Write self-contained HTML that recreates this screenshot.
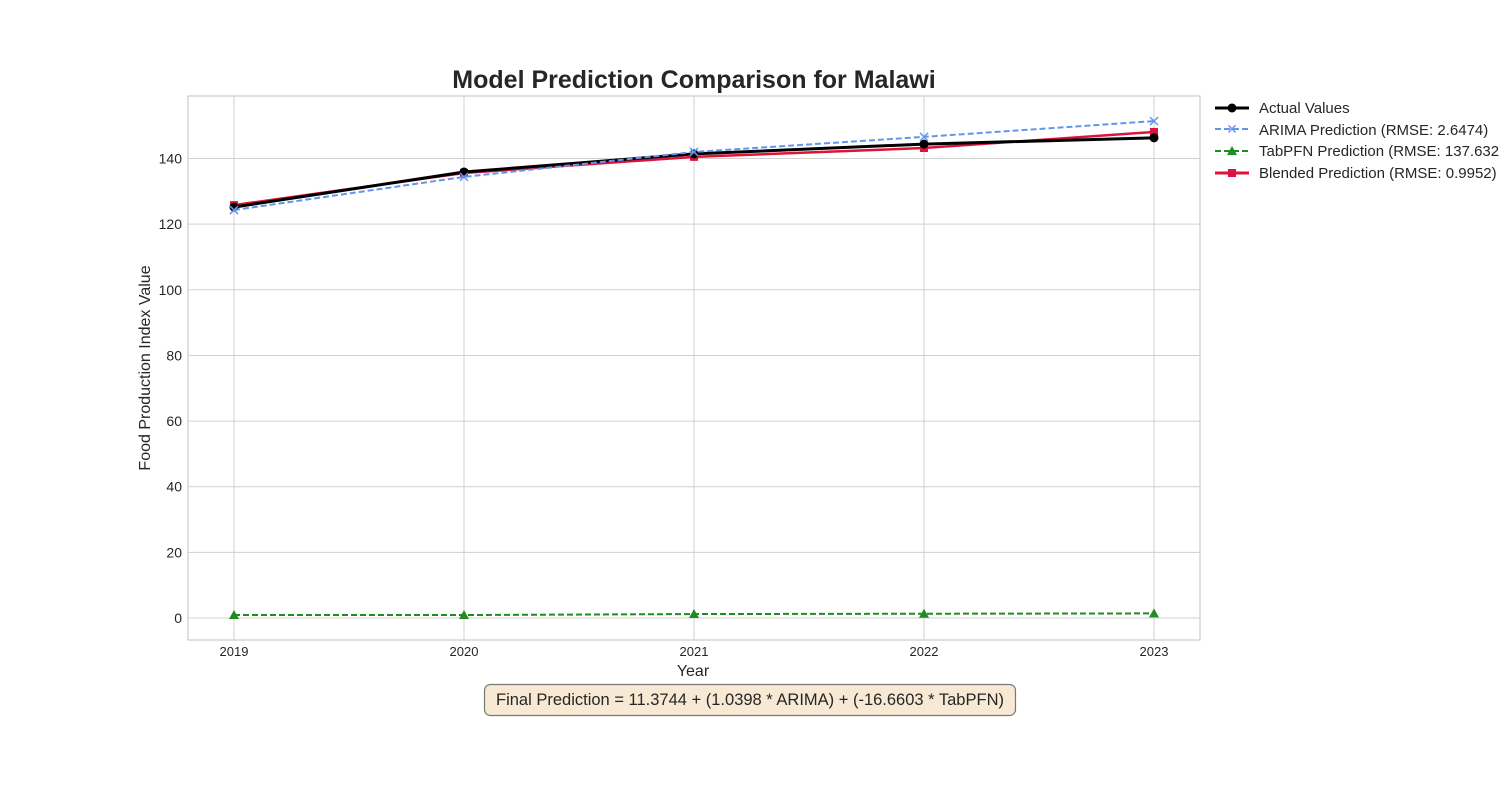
<!DOCTYPE html>
<html><head><meta charset="utf-8"><style>
body{margin:0;background:#fff;font-family:"Liberation Sans",sans-serif;}
svg text{font-family:"Liberation Sans",sans-serif;}
</style></head><body>
<svg id="chart" width="1500" height="800">
<rect width="1500" height="800" fill="#fff"/>
<text x="694" y="88" text-anchor="middle" font-size="25" font-weight="bold" fill="#262626">Model Prediction Comparison for Malawi</text>
<g id="grid"></g>
<rect x="188" y="96" width="1012" height="544" fill="none" stroke="#ccc" stroke-width="1.2"/>
<g id="series"></g>
<text x="693" y="676" text-anchor="middle" font-size="16" fill="#262626">Year</text>
<text transform="translate(150,368) rotate(-90)" text-anchor="middle" font-size="16" fill="#262626">Food Production Index Value</text>
<g>
<line x1="1215" y1="108" x2="1249" y2="108" stroke="#000" stroke-width="3"/><circle cx="1232" cy="108" r="4.5" fill="#000"/>
<text x="1259" y="113" font-size="15" fill="#262626">Actual Values</text>
<line x1="1215" y1="129" x2="1249" y2="129" stroke="#6495ed" stroke-width="2" stroke-dasharray="6,3"/><text x="1232" y="134" text-anchor="middle" font-size="14" fill="#6495ed">✕</text>
<text x="1259" y="135" font-size="15" fill="#262626">ARIMA Prediction (RMSE: 2.6474)</text>
<line x1="1215" y1="151" x2="1249" y2="151" stroke="#228b22" stroke-width="2" stroke-dasharray="6,3"/><polygon points="1232,146 1237,155 1227,155" fill="#228b22"/>
<text x="1259" y="156" font-size="15" fill="#262626">TabPFN Prediction (RMSE: 137.6327)</text>
<line x1="1215" y1="173" x2="1249" y2="173" stroke="#dc143c" stroke-width="3"/><rect x="1228" y="169" width="8" height="8" fill="#dc143c"/>
<text x="1259" y="178" font-size="15" fill="#262626">Blended Prediction (RMSE: 0.9952)</text>
</g>
<g>
<rect x="484.5" y="684.5" width="531" height="31" rx="6" fill="#f7e9d4" stroke="#777" stroke-width="1.2"/>
<text x="750" y="705" text-anchor="middle" font-size="16.5" fill="#262626">Final Prediction = 11.3744 + (1.0398 * ARIMA) + (-16.6603 * TabPFN)</text>
</g>
</svg>
<script>
const years=[2019,2020,2021,2022,2023];
const yTicks=[0,20,40,60,80,100,120,140];
const actual=[125.2,135.9,141.4,144.4,146.3];
const arima=[124.3,134.4,142.0,146.6,151.4];
const tabpfn=[0.9,0.9,1.2,1.3,1.4];
const blended=[125.8,135.6,140.5,143.2,148.1];
const NS="http://www.w3.org/2000/svg";
const xS=v=>234+(v-2019)*230;
const yS=v=>618-v*3.282;
function mk(t,a,p){const e=document.createElementNS(NS,t);for(const k in a)e.setAttribute(k,a[k]);p.appendChild(e);return e;}
const grid=document.getElementById('grid');
yTicks.forEach(t=>{
 const l=mk('line',{x1:188,x2:1200,y1:yS(t),y2:yS(t),stroke:'#d0d0d0','stroke-width':1},grid);
 
 
 const tx=mk('text',{x:182,y:yS(t)+5,'text-anchor':'end','font-size':14,fill:'#262626'},grid);tx.textContent=t;
 
 
});
years.forEach(y=>{
 const l=mk('line',{x1:xS(y),x2:xS(y),y1:96,y2:640,stroke:'#d0d0d0','stroke-width':1},grid);
 
 
 const tx=mk('text',{x:xS(y),y:656,'text-anchor':'middle','font-size':13,fill:'#262626'},grid);tx.textContent=y;
 
 
});
const sg=document.getElementById('series');
function series(vals,color,w,dash,marker,name){
 const pts=vals.map((v,i)=>xS(years[i])+','+yS(v)).join(' ');
 const pl=mk('polyline',{points:pts,fill:'none',stroke:color,'stroke-width':w},sg);
 if(dash)pl.setAttribute('stroke-dasharray',dash);
 
 
 vals.forEach((v,i)=>{
  const x=xS(years[i]),y=yS(v);let m;
  if(marker==='o')m=mk('circle',{cx:x,cy:y,r:4.5,fill:color},sg);
  else if(marker==='s')m=mk('rect',{x:x-4,y:y-4,width:8,height:8,fill:color},sg);
  else if(marker==='^')m=mk('polygon',{points:`${x},${y-5} ${x+5},${y+4} ${x-5},${y+4}`,fill:color},sg);
  else {m=mk('path',{d:`M${x-4},${y-4}L${x+4},${y+4}M${x-4},${y+4}L${x+4},${y-4}`,stroke:color,'stroke-width':1.5},sg);}
  
  
 });
}
series(tabpfn,'#228b22',2,'6,3','^','tabpfn');
series(blended,'#dc143c',2.5,null,'s','blended');
series(actual,'#000',3,null,'o','actual');
series(arima,'#6495ed',2,'6,3','x','arima');
</script>
</body></html>
